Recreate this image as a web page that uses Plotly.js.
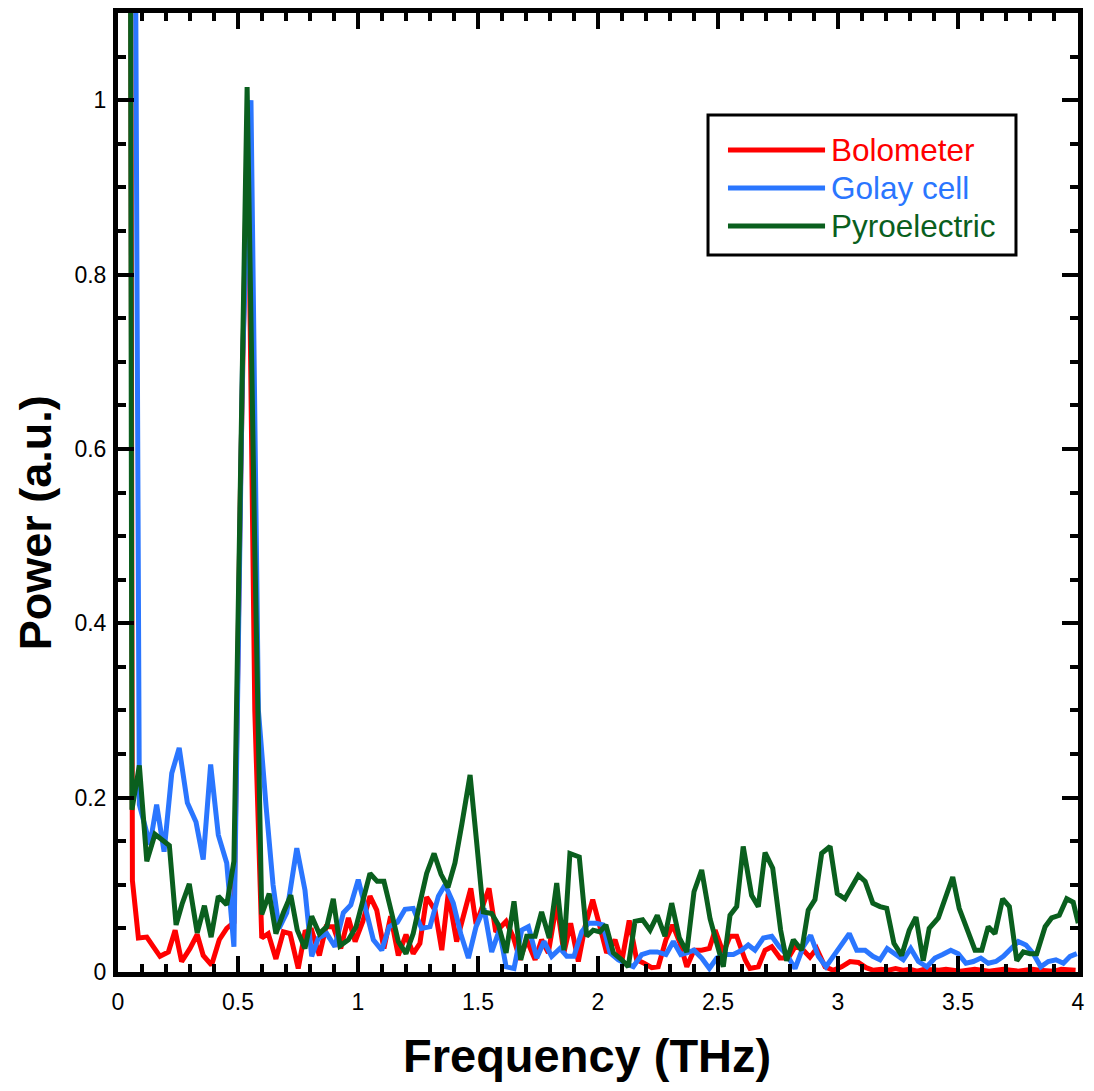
<!DOCTYPE html>
<html>
<head>
<meta charset="utf-8">
<script src="https://cdn.plot.ly/plotly-3.0.1.min.js"></script>
<style>html,body{margin:0;padding:0;background:#fff;}#chart{width:1094px;height:1091px;}</style>
</head>
<body>
<div id="chart"></div>
<script>
// Bolometer (red)
const boloFreq = [0.029,0.060,0.085,0.120,0.147,0.175,0.210,0.238,0.265,0.300,0.330,0.355,0.390,0.422,0.453,0.483,0.510,0.540,0.570,0.599,0.626,0.658,0.689,0.717,0.751,0.779,0.807,0.839,0.867,0.897,0.928,0.960,0.988,1.020,1.050,1.078,1.108,1.136,1.168,1.200,1.230,1.258,1.286,1.321,1.349,1.376,1.411,1.436,1.470,1.492,1.519,1.546,1.574,1.617,1.647,1.675,1.703,1.738,1.765,1.793,1.828,1.858,1.886,1.918,1.946,1.978,2.008,2.036,2.071,2.099,2.130,2.161,2.192,2.224,2.251,2.283,2.311,2.342,2.370,2.400,2.432,2.464,2.488,2.522,2.550,2.578,2.613,2.633,2.668,2.696,2.724,2.758,2.793,2.821,2.849,2.883,2.911,2.946,2.980,3.015,3.050,3.085,3.117,3.147,3.180,3.210,3.240,3.270,3.300,3.330,3.360,3.390,3.420,3.450,3.480,3.510,3.540,3.570,3.600,3.630,3.660,3.690,3.720,3.750,3.780,3.810,3.840,3.870,3.900,3.930,3.960,3.990];
const boloPower = [5.0,0.105,0.039,0.040,0.029,0.018,0.023,0.048,0.012,0.027,0.043,0.019,0.008,0.037,0.050,0.057,0.55,0.99,0.30,0.039,0.044,0.015,0.046,0.044,0.004,0.046,0.048,0.019,0.052,0.052,0.027,0.062,0.035,0.058,0.087,0.071,0.027,0.064,0.019,0.043,0.021,0.033,0.086,0.071,0.025,0.090,0.035,0.063,0.096,0.055,0.075,0.096,0.046,0.058,0.040,0.014,0.037,0.014,0.037,0.022,0.079,0.022,0.056,0.012,0.052,0.083,0.052,0.022,0.037,0.012,0.059,0.014,0.010,0.005,0.006,0.037,0.054,0.033,0.006,0.025,0.025,0.027,0.048,0.022,0.041,0.041,0.014,0.004,0.006,0.025,0.029,0.016,0.016,0.029,0.027,0.017,0.027,0.006,0.002,0.006,0.012,0.011,0.005,0.002,0.003,0.002,0.004,0.002,0.003,0.001,0.003,0.002,0.002,0.003,0.002,0.001,0.002,0.003,0.002,0.001,0.002,0.003,0.002,0.001,0.002,0.003,0.002,0.002,0.001,0.003,0.002,0.002];

// Golay cell (blue)
const golayFreq = [0.030,0.066,0.089,0.133,0.161,0.192,0.224,0.255,0.289,0.325,0.355,0.386,0.418,0.453,0.483,0.519,0.554,0.585,0.617,0.646,0.671,0.703,0.745,0.779,0.807,0.835,0.870,0.904,0.939,0.970,1.001,1.033,1.064,1.099,1.130,1.164,1.196,1.230,1.265,1.300,1.335,1.363,1.397,1.428,1.460,1.492,1.525,1.557,1.589,1.617,1.650,1.682,1.710,1.745,1.775,1.807,1.842,1.870,1.900,1.932,1.960,1.992,2.020,2.050,2.085,2.113,2.147,2.182,2.217,2.247,2.283,2.314,2.345,2.370,2.400,2.432,2.464,2.495,2.529,2.564,2.599,2.626,2.654,2.689,2.724,2.755,2.786,2.821,2.855,2.886,2.918,2.950,2.980,3.015,3.047,3.078,3.113,3.145,3.175,3.205,3.238,3.272,3.303,3.335,3.370,3.404,3.436,3.470,3.501,3.533,3.564,3.595,3.626,3.658,3.689,3.720,3.751,3.783,3.814,3.845,3.876,3.908,3.939,3.967,3.995];
const golayPower = [1.3,1.6,0.192,0.146,0.192,0.138,0.228,0.257,0.194,0.172,0.129,0.238,0.157,0.125,0.029,0.70,1.0,0.30,0.19,0.10,0.05,0.068,0.142,0.094,0.018,0.039,0.044,0.029,0.068,0.077,0.106,0.068,0.037,0.025,0.052,0.057,0.072,0.073,0.050,0.052,0.087,0.100,0.079,0.044,0.016,0.052,0.073,0.023,0.048,0.006,0.004,0.048,0.052,0.016,0.035,0.018,0.027,0.018,0.018,0.046,0.056,0.056,0.054,0.022,0.014,0.010,0.006,0.020,0.023,0.023,0.020,0.035,0.020,0.022,0.025,0.016,0.004,0.016,0.020,0.020,0.025,0.031,0.025,0.039,0.041,0.029,0.020,0.004,0.029,0.042,0.018,0.006,0.018,0.033,0.044,0.025,0.025,0.018,0.014,0.027,0.021,0.014,0.027,0.012,0.006,0.016,0.020,0.025,0.021,0.010,0.012,0.016,0.010,0.012,0.018,0.027,0.035,0.031,0.021,0.006,0.012,0.014,0.010,0.018,0.021];

// Pyroelectric (green)
const pyroFreq = [0.029,0.058,0.089,0.120,0.154,0.183,0.214,0.242,0.267,0.297,0.330,0.360,0.388,0.418,0.453,0.483,0.510,0.538,0.569,0.599,0.630,0.658,0.689,0.720,0.747,0.779,0.807,0.839,0.870,0.897,0.925,0.960,0.992,1.020,1.050,1.080,1.108,1.140,1.168,1.200,1.230,1.258,1.286,1.317,1.346,1.375,1.404,1.433,1.467,1.494,1.522,1.557,1.585,1.617,1.650,1.678,1.703,1.738,1.765,1.797,1.828,1.858,1.883,1.922,1.953,1.980,2.008,2.033,2.064,2.099,2.126,2.154,2.186,2.217,2.247,2.279,2.307,2.339,2.370,2.400,2.432,2.467,2.495,2.522,2.550,2.578,2.605,2.640,2.668,2.696,2.728,2.761,2.786,2.814,2.849,2.876,2.904,2.932,2.967,2.997,3.029,3.057,3.085,3.113,3.145,3.175,3.203,3.233,3.265,3.297,3.325,3.355,3.380,3.418,3.446,3.478,3.505,3.536,3.571,3.599,3.626,3.654,3.686,3.714,3.745,3.772,3.800,3.828,3.863,3.890,3.922,3.953,3.980,4.001];
const pyroPower = [5.0,0.186,0.237,0.127,0.158,0.152,0.145,0.054,0.078,0.101,0.045,0.076,0.040,0.087,0.077,0.127,0.59,1.015,0.50,0.066,0.090,0.044,0.068,0.088,0.048,0.027,0.064,0.044,0.052,0.084,0.030,0.037,0.052,0.083,0.113,0.104,0.104,0.068,0.035,0.021,0.044,0.079,0.113,0.136,0.112,0.097,0.125,0.170,0.226,0.150,0.069,0.067,0.054,0.022,0.081,0.014,0.041,0.041,0.069,0.039,0.102,0.025,0.136,0.132,0.041,0.048,0.046,0.054,0.022,0.014,0.006,0.058,0.060,0.048,0.065,0.041,0.079,0.039,0.023,0.092,0.117,0.061,0.033,0.006,0.065,0.075,0.144,0.088,0.075,0.137,0.119,0.048,0.013,0.037,0.025,0.071,0.083,0.136,0.144,0.090,0.084,0.098,0.111,0.104,0.079,0.075,0.073,0.033,0.019,0.048,0.063,0.013,0.050,0.062,0.084,0.109,0.073,0.050,0.025,0.025,0.052,0.044,0.084,0.075,0.013,0.023,0.021,0.021,0.052,0.062,0.065,0.084,0.080,0.056];

const seriesNames = ['Bolometer', 'Golay cell', 'Pyroelectric'];
const seriesColors = ['#ff0000', '#2a76ff', '#0a5f1e'];

const FONT = 'Liberation Sans, Arial, Helvetica, sans-serif';

const traces = [
  {x: boloFreq, y: boloPower, name: seriesNames[0], type: 'scatter', mode: 'lines', line: {color: seriesColors[0], width: 5}},
  {x: golayFreq, y: golayPower, name: seriesNames[1], type: 'scatter', mode: 'lines', line: {color: seriesColors[1], width: 5}},
  {x: pyroFreq, y: pyroPower, name: seriesNames[2], type: 'scatter', mode: 'lines', line: {color: seriesColors[2], width: 5}}
];

// custom legend (paper coordinates)
const legX0 = 0.6146, legX1 = 0.9354, legY0 = 0.7477, legY1 = 0.8936;
const rowY = [0.8571, 0.8175, 0.7779];
const shapes = [{type: 'rect', xref: 'paper', yref: 'paper', x0: legX0, x1: legX1, y0: legY0, y1: legY1, line: {color: 'black', width: 3}, fillcolor: 'white', layer: 'above'}];
const annotations = [];
seriesNames.forEach((n, k) => {
  shapes.push({type: 'line', xref: 'paper', yref: 'paper', x0: 0.6354, x1: 0.7365, y0: rowY[k], y1: rowY[k], line: {color: seriesColors[k], width: 5}, layer: 'above'});
  annotations.push({xref: 'paper', yref: 'paper', x: 0.7405, y: rowY[k], xanchor: 'left', yanchor: 'middle', text: n, showarrow: false, font: {family: FONT, size: 31.5, color: seriesColors[k]}});
});
annotations.push({xref: 'paper', yref: 'paper', x: 0.4885, y: -0.0875, xanchor: 'center', yanchor: 'middle', text: '<b>Frequency (THz)</b>', showarrow: false, font: {family: FONT, size: 47, color: 'black'}});
annotations.push({xref: 'paper', yref: 'paper', x: -0.0865, y: 0.469, xanchor: 'center', yanchor: 'middle', textangle: -90, text: '<b>Power (a.u.)</b>', showarrow: false, font: {family: FONT, size: 45, color: 'black'}});

const layout = {
  width: 1094, height: 1091,
  margin: {l: 118, r: 16, t: 13, b: 119, pad: 0},
  paper_bgcolor: 'white', plot_bgcolor: 'white',
  showlegend: false,
  font: {family: FONT, size: 22, color: 'black'},
  xaxis: {
    range: [0, 4], dtick: 0.5, tick0: 0, showgrid: false, zeroline: false,
    showline: true, linewidth: 5, linecolor: 'black', mirror: 'allticks',
    ticks: 'inside', ticklen: 16, tickwidth: 4, tickcolor: 'black',
    ticklabelstandoff: 5,
    tickfont: {family: FONT, size: 23, color: 'black'},
    minor: {dtick: 0.1, ticklen: 8, tickwidth: 4, tickcolor: 'black', ticks: 'inside', showgrid: false}
  },
  yaxis: {
    range: [0, 1.1], dtick: 0.2, tick0: 0, showgrid: false, zeroline: false,
    showline: true, linewidth: 5, linecolor: 'black', mirror: 'allticks',
    ticks: 'inside', ticklen: 16, tickwidth: 4, tickcolor: 'black',
    ticklabelstandoff: 2,
    tickfont: {family: FONT, size: 23, color: 'black'},
    minor: {dtick: 0.05, ticklen: 8, tickwidth: 4, tickcolor: 'black', ticks: 'inside', showgrid: false}
  },
  shapes: shapes,
  annotations: annotations
};

Plotly.newPlot('chart', traces, layout, {displayModeBar: false, staticPlot: true});
</script>
</body>
</html>
